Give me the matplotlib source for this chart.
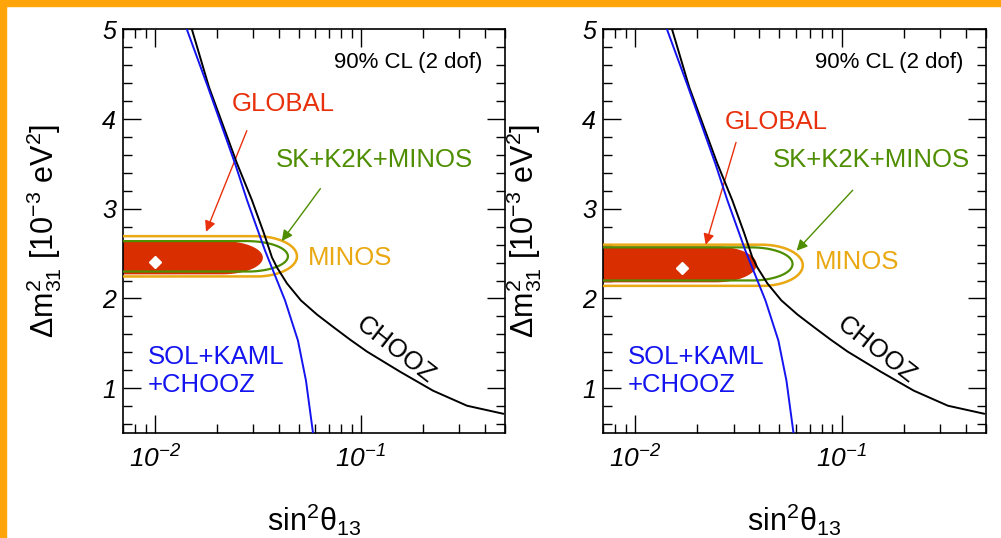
import numpy as np
import matplotlib
matplotlib.use("Agg")
import matplotlib.pyplot as plt
from matplotlib.patches import Rectangle
from matplotlib.ticker import FixedLocator, MultipleLocator, NullFormatter, LogLocator

plt.rcParams['font.family'] = ['Liberation Sans', 'DejaVu Sans']
plt.rcParams['mathtext.fontset'] = 'custom'
plt.rcParams['mathtext.rm'] = 'Liberation Sans'
plt.rcParams['mathtext.it'] = 'Liberation Sans:italic'
plt.rcParams['mathtext.sf'] = 'Liberation Sans:italic'
plt.rcParams['mathtext.bf'] = 'Liberation Sans:bold'

# ---- data -------------------------------------------------------------
# SOL+KAML+CHOOZ bound (sin^2 theta13, dm2_31 in 1e-3 eV^2)
sol_s2 = [0.01429, 0.01808, 0.02445, 0.0280, 0.0342, 0.0428, 0.04944, 0.05408, 0.05848]
sol_dm2 = [5.00, 4.358, 3.508, 3.095, 2.536, 1.978, 1.531, 1.084, 0.503]

# CHOOZ bound
chooz_s2 = [0.01512, 0.01829, 0.02500, 0.02958, 0.03381, 0.03698, 0.03911, 0.04373,
            0.05113, 0.06115, 0.07393, 0.08843, 0.1069, 0.1546, 0.2236, 0.3270, 0.4890]
chooz_dm2 = [5.000, 4.358, 3.508, 3.095, 2.726, 2.458, 2.346, 2.168,
             1.978, 1.821, 1.676, 1.542, 1.408, 1.184, 0.972, 0.804, 0.715]

# allowed regions per panel: right end in sin^2, centre and half-height in dm2
global_tip = [0.0334, 0.0388]
global_mid = [2.455, 2.38]
global_half = [0.186, 0.200]

atm_tip = [0.0442, 0.0579]
atm_mid = [2.47, 2.385]
atm_half = [0.170, 0.185]

minos_tip = [0.0489, 0.0649]
minos_mid = [2.47, 2.37]
minos_half = [0.225, 0.230]

best_s2 = [0.0100, 0.0169]
best_dm2 = [2.41, 2.335]

# label arrows: (tail, head) in data coordinates
global_arrow = [((0.02825, 3.90), (0.0175, 2.715)), ((0.0311, 3.77), (0.0218, 2.57))]
atm_arrow = [((0.0647, 3.25), (0.0405, 2.615)), ((0.1156, 3.23), (0.0593, 2.51))]

# label positions (axes fraction)
global_lbl = [(0.419, 0.815), (0.452, 0.771)]
atm_lbl = [(0.657, 0.677), (0.700, 0.677)]
minos_lbl = [(0.484, 0.434), (0.554, 0.424)]

x_ticks = [0.01, 0.1]
x_ticklabels = [r'$\mathsf{10^{-2}}$', r'$\mathsf{10^{-1}}$']
y_ticks = [1, 2, 3, 4, 5]
y_ticklabels = ['1', '2', '3', '4', '5']

C_RED = '#D92E00'
C_GREEN = '#4E8E00'
C_ORANGE = '#EAA812'
C_BLUE = '#1414F0'
C_BORDER = '#FFA50A'


def band_outline(x_tip, y_mid, half, cap=0.2, x_far=1e-4):
    """Horizontal band open to small sin^2, closed by an elliptic cap (log x)."""
    t = np.linspace(-np.pi / 2, np.pi / 2, 200)
    lc = np.log10(x_tip) - cap
    lx = np.concatenate([[np.log10(x_far)], lc + cap * np.cos(t), [np.log10(x_far)]])
    yy = np.concatenate([[y_mid - half], y_mid + half * np.sin(t), [y_mid + half]])
    return 10 ** lx, yy


fig = plt.figure(figsize=(10.01, 5.38), dpi=100)
fig.patches.append(Rectangle((0, 1 - 6 / 538), 1, 6 / 538, transform=fig.transFigure,
                             color=C_BORDER, zorder=-5))
fig.patches.append(Rectangle((0, 0), 6 / 1001, 1, transform=fig.transFigure,
                             color=C_BORDER, zorder=-5))

rects = [[0.1229, 0.1952, 0.3816, 0.7500], [0.6024, 0.1952, 0.3826, 0.7500]]

for i, r in enumerate(rects):
    ax = fig.add_axes(r)
    ax.set_xscale('log')
    ax.set_xlim(0.007, 0.5)
    ax.set_ylim(0.5, 5.0)

    # allowed regions
    gx, gy = band_outline(global_tip[i], global_mid[i], global_half[i])
    ax.fill(gx, gy, color=C_RED, lw=0, zorder=2)
    ax.plot(best_s2[i], best_dm2[i], marker='D', ms=6, color='white', mec='white', zorder=6)
    ax_, ay_ = band_outline(atm_tip[i], atm_mid[i], atm_half[i])
    ax.plot(ax_, ay_, color=C_GREEN, lw=1.6, zorder=3)
    mx, my = band_outline(minos_tip[i], minos_mid[i], minos_half[i])
    ax.plot(mx, my, color=C_ORANGE, lw=1.8, zorder=3)

    # bounds
    ax.plot(chooz_s2, chooz_dm2, color='black', lw=1.4, zorder=4, solid_joinstyle='round')
    ax.plot(sol_s2, sol_dm2, color=C_BLUE, lw=1.4, zorder=5, solid_joinstyle='round')

    # annotations
    ax.text(0.942, 0.917, '90% CL (2 dof)', transform=ax.transAxes, ha='right',
            va='center', fontsize=16)
    ax.text(*global_lbl[i], 'GLOBAL', transform=ax.transAxes, ha='center', va='center',
            fontsize=18.5, color='#E8300C')
    ax.text(*atm_lbl[i], 'SK+K2K+MINOS', transform=ax.transAxes, ha='center', va='center',
            fontsize=18.5, color=C_GREEN)
    ax.text(*minos_lbl[i], 'MINOS', transform=ax.transAxes, ha='left', va='center',
            fontsize=18.5, color=C_ORANGE)
    ax.text(0.065, 0.188, 'SOL+KAML', transform=ax.transAxes, ha='left', va='center',
            fontsize=18.5, color=C_BLUE)
    ax.text(0.065, 0.119, '+CHOOZ', transform=ax.transAxes, ha='left', va='center',
            fontsize=18.5, color=C_BLUE)
    ax.text(0.715, 0.206, 'CHOOZ', transform=ax.transAxes, ha='center', va='center',
            fontsize=18.5, color='black', rotation=-38)

    (t0, h0) = global_arrow[i]
    ax.annotate('', xy=h0, xytext=t0,
                arrowprops=dict(arrowstyle='-|>', color='#E8300C', lw=1.0, mutation_scale=16))
    (t1, h1) = atm_arrow[i]
    ax.annotate('', xy=h1, xytext=t1,
                arrowprops=dict(arrowstyle='-|>', color=C_GREEN, lw=1.0, mutation_scale=16))

    # axes styling
    ax.xaxis.set_major_locator(FixedLocator(x_ticks))
    ax.set_xticklabels(x_ticklabels, fontsize=19)
    ax.xaxis.set_minor_locator(LogLocator(base=10, subs=np.arange(2, 10)))
    ax.xaxis.set_minor_formatter(NullFormatter())
    ax.yaxis.set_major_locator(FixedLocator(y_ticks))
    ax.set_yticklabels(y_ticklabels, fontsize=18, fontstyle='italic')
    ax.yaxis.set_minor_locator(MultipleLocator(0.2))
    ax.tick_params(which='both', direction='in', top=True, right=True, width=1.0)
    ax.tick_params(which='major', length=13)
    ax.tick_params(which='minor', length=6.5)
    ax.tick_params(axis='x', which='major', pad=9)
    ax.tick_params(axis='y', which='major', pad=5)
    for sp in ax.spines.values():
        sp.set_linewidth(1.2)

    ax.set_ylabel(r'Δm$^{2}_{31}$ [10$^{-3}$ eV$^{2}$]', fontsize=22)
    ax.yaxis.set_label_coords(-0.155, 0.5)
    ax.set_xlabel(r'sin$^{2}$θ$_{13}$', fontsize=22)
    ax.xaxis.set_label_coords(0.5, -0.171)

fig.savefig('out.png', dpi=100)
